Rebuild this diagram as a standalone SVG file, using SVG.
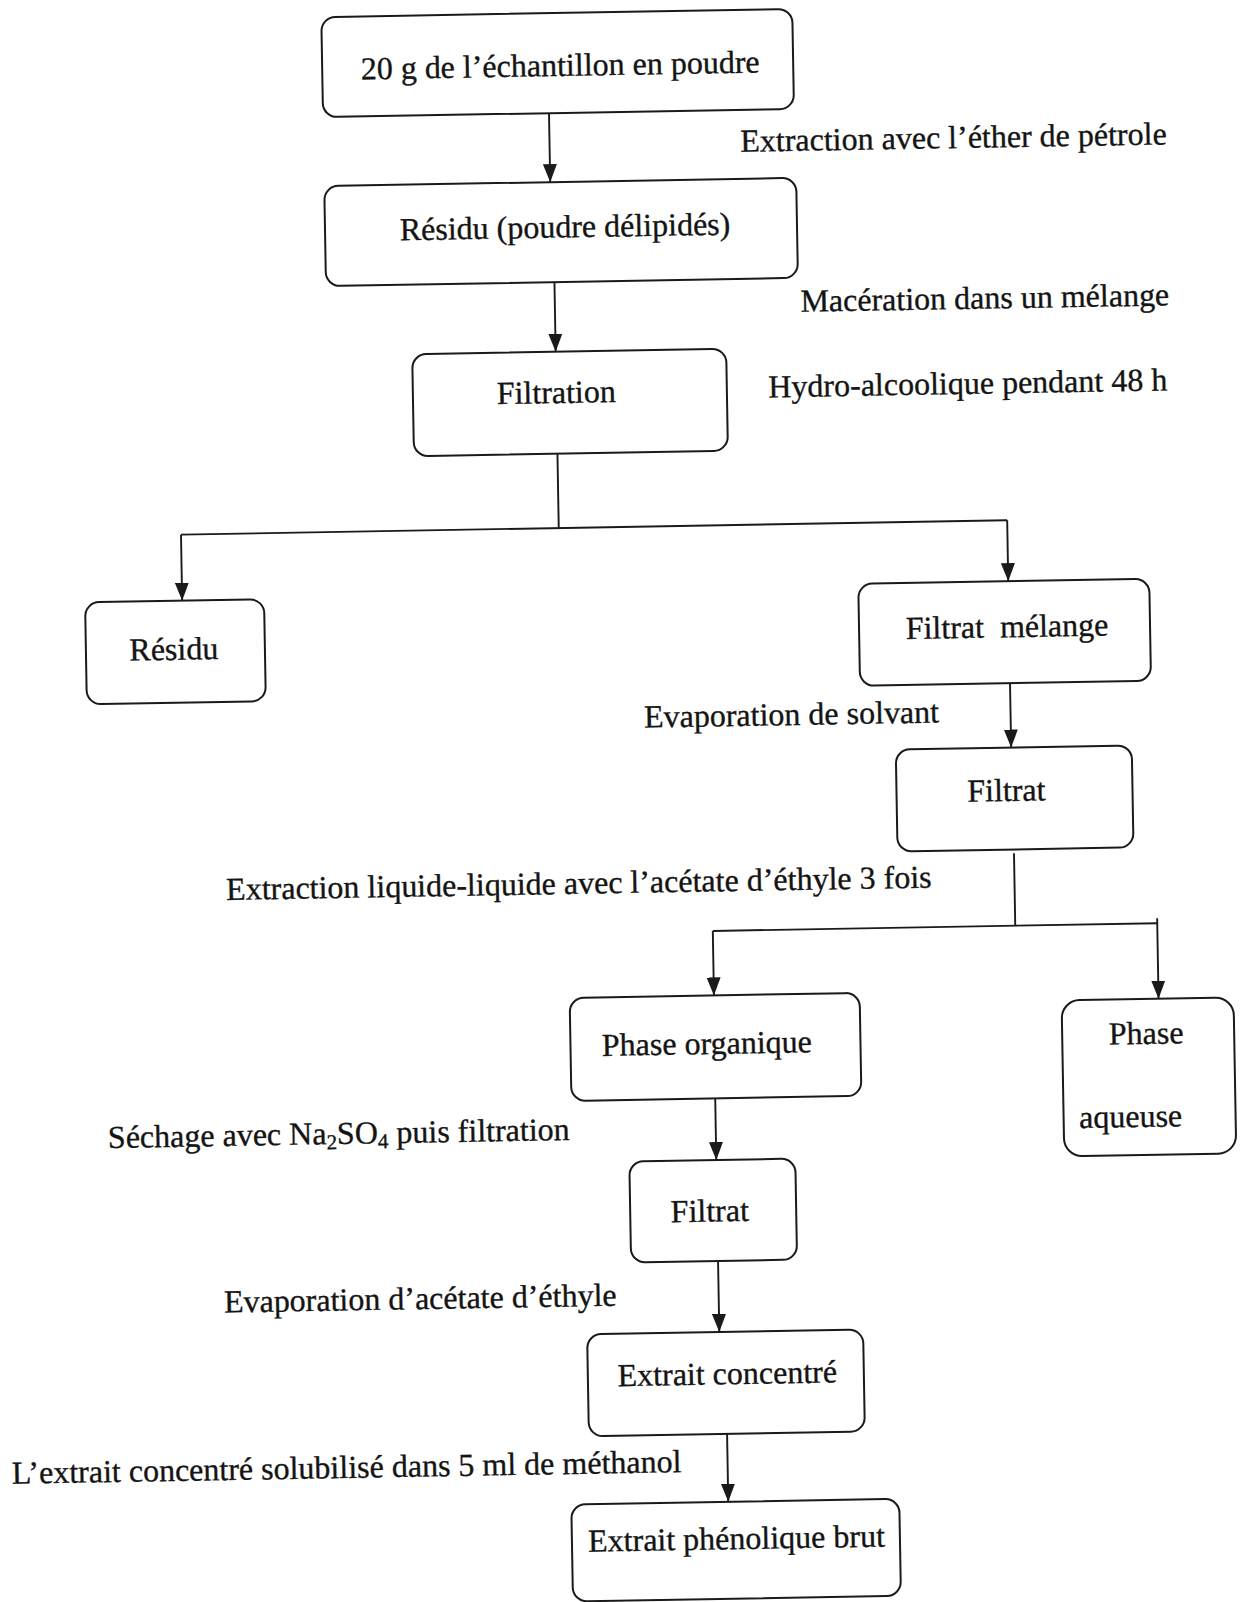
<svg xmlns="http://www.w3.org/2000/svg" width="1245" height="1602" viewBox="0 0 1245 1602">
  <style>
    .box { fill: #ffffff; stroke: #1a1a1a; stroke-width: 2; }
    .wire { fill: none; stroke: #1a1a1a; stroke-width: 1.9; }
    .lbl { font-family: "Liberation Serif", "Times New Roman", serif; font-size: 32px; fill: #141414; stroke: #141414; stroke-width: 0.35; text-anchor: middle; white-space: pre; }
  </style>
  <defs>
    <marker id="head" viewBox="0 0 18 14" refX="18" refY="7" markerWidth="18" markerHeight="14" markerUnits="userSpaceOnUse" orient="auto">
      <path d="M0,0 L18,7 L0,14 z" fill="#1a1a1a"/>
    </marker>
  </defs>
  <rect width="1245" height="1602" fill="#ffffff"/>

  <!-- whole sheet sits slightly tilted -->
  <g transform="rotate(-1 622 800)">

    <!-- connectors -->
    <g id="connectors">
      <line class="wire" x1="561" y1="112" x2="561" y2="181" marker-end="url(#head)"/>
      <line class="wire" x1="563.5" y1="281" x2="563.5" y2="350.6" marker-end="url(#head)"/>
      <polyline class="wire" points="563.5,452.6 563.5,527"/>
      <polyline class="wire" points="185.7,527 1012,527"/>
      <line class="wire" x1="185.7" y1="527" x2="185.7" y2="593" marker-end="url(#head)"/>
      <line class="wire" x1="1012" y1="527" x2="1012" y2="588" marker-end="url(#head)"/>
      <line class="wire" x1="1012" y1="690" x2="1012" y2="754.3" marker-end="url(#head)"/>
      <polyline class="wire" points="1013,860 1013,932.5"/>
      <polyline class="wire" points="710.5,932.5 1155,932.5"/>
      <line class="wire" x1="710.5" y1="932.5" x2="710.5" y2="997" marker-end="url(#head)"/>
      <line class="wire" x1="1155" y1="927.5" x2="1155" y2="1008" marker-end="url(#head)"/>
      <line class="wire" x1="710" y1="1100" x2="710" y2="1161.6" marker-end="url(#head)"/>
      <line class="wire" x1="710" y1="1262.6" x2="710" y2="1333.6" marker-end="url(#head)"/>
      <line class="wire" x1="716" y1="1435.6" x2="716" y2="1503.5" marker-end="url(#head)"/>
    </g>

    <!-- step labels beside the connectors -->
    <g id="step-labels">
      <text class="lbl" x="965" y="154">Extraction avec l’éther de pétrole</text>
      <text class="lbl" x="993.5" y="315">Macération dans un mélange</text>
      <text class="lbl" x="975" y="400">Hydro-alcoolique pendant 48 h</text>
      <text class="lbl" x="793" y="728">Evaporation de solvant</text>
      <text class="lbl" x="577.4" y="893">Extraction liquide-liquide avec l’acétate d’éthyle 3 fois</text>
      <text class="lbl" x="333" y="1139">Séchage avec Na<tspan font-size="21" dy="5">2</tspan><tspan dy="-5">SO</tspan><tspan font-size="21" dy="5">4</tspan><tspan dy="-5"> puis filtration</tspan></text>
      <text class="lbl" x="411.6" y="1305.5">Evaporation d’acétate d’éthyle</text>
      <text class="lbl" x="335" y="1473">L’extrait concentré solubilisé dans 5 ml de méthanol</text>
    </g>

    <!-- nodes -->
    <g id="n-echantillon">
      <rect class="box" x="335" y="12" width="471" height="100" rx="14"/>
      <text class="lbl" x="573" y="75">20 g de l’échantillon en poudre</text>
    </g>
    <g id="n-residu-delipide">
      <rect class="box" x="335" y="181" width="472" height="100" rx="14"/>
      <text class="lbl" x="575" y="236.5">Résidu (poudre délipidés)</text>
    </g>
    <g id="n-filtration">
      <rect class="box" x="420" y="350.6" width="314" height="102" rx="14"/>
      <text class="lbl" x="563.4" y="402" font-size="33">Filtration</text>
    </g>
    <g id="n-residu">
      <rect class="box" x="88.6" y="593" width="179" height="102" rx="14"/>
      <text class="lbl" x="176.5" y="652">Résidu</text>
    </g>
    <g id="n-filtrat-melange">
      <rect class="box" x="862" y="588" width="291" height="102" rx="14"/>
      <text class="lbl" x="1010" y="644">Filtrat  mélange</text>
    </g>
    <g id="n-filtrat-1">
      <rect class="box" x="896.6" y="754.3" width="236" height="102" rx="14"/>
      <text class="lbl" x="1006.5" y="807.7">Filtrat</text>
    </g>
    <g id="n-phase-organique">
      <rect class="box" x="566.2" y="997" width="290" height="103" rx="14"/>
      <text class="lbl" x="702.6" y="1055.5">Phase organique</text>
    </g>
    <g id="n-phase-aqueuse">
      <rect class="box" x="1058" y="1008" width="172" height="156" rx="18"/>
      <text class="lbl" x="1142" y="1053">Phase</text>
      <text class="lbl" x="1125" y="1136">aqueuse</text>
    </g>
    <g id="n-filtrat-2">
      <rect class="box" x="623" y="1161.6" width="166" height="101" rx="14"/>
      <text class="lbl" x="702.6" y="1223">Filtrat</text>
    </g>
    <g id="n-extrait-concentre">
      <rect class="box" x="577.8" y="1333.6" width="276" height="102" rx="14"/>
      <text class="lbl" x="717.3" y="1386">Extrait concentré</text>
    </g>
    <g id="n-extrait-phenolique">
      <rect class="box" x="559" y="1503.5" width="328" height="97" rx="14"/>
      <text class="lbl" x="723.6" y="1551">Extrait phénolique brut</text>
    </g>
  </g>
</svg>
